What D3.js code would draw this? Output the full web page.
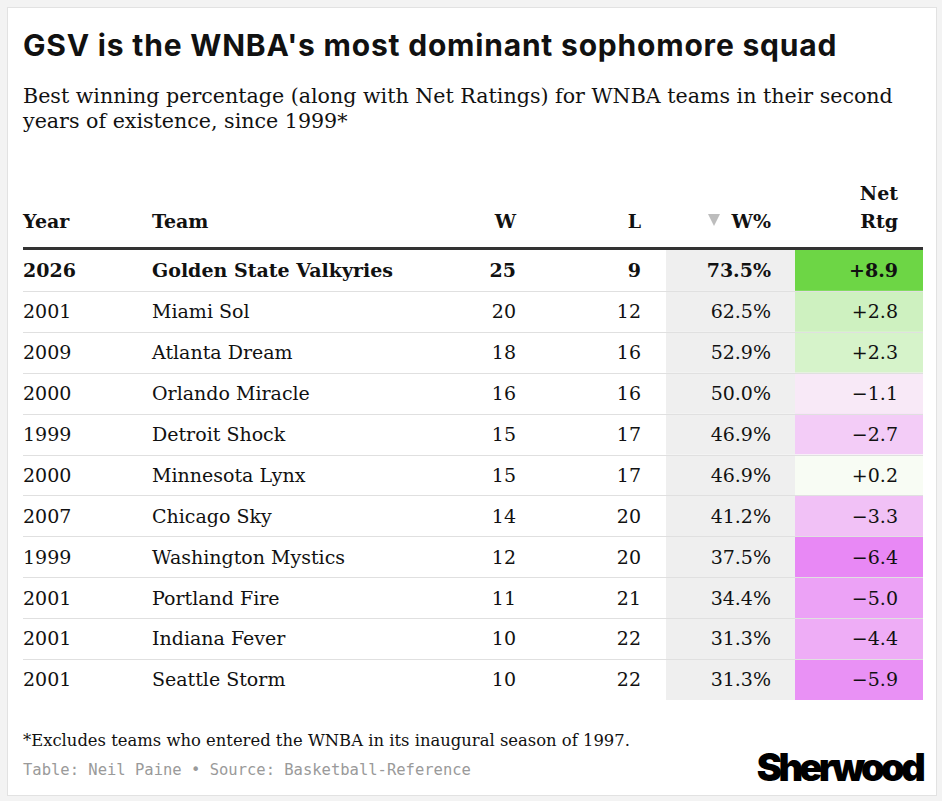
<!DOCTYPE html>
<html>
<head>
<meta charset="utf-8">
<script src="https://cdn.jsdelivr.net/npm/d3@7"></script>
<style>
  html, body { margin: 0; padding: 0; background: #f3f3f3; }
  svg { display: block; }
  .serif { font-family: "DejaVu Serif", serif; fill: #111; }
  .mono { font-family: "DejaVu Sans Mono", monospace; }
</style>
</head>
<body>
<svg id="chart"></svg>
<script>
// Table data
const years = ["2026", "2001", "2009", "2000", "1999", "2000", "2007", "1999", "2001", "2001", "2001"];
const teams = [
  "Golden State Valkyries", "Miami Sol", "Atlanta Dream", "Orlando Miracle",
  "Detroit Shock", "Minnesota Lynx", "Chicago Sky", "Washington Mystics",
  "Portland Fire", "Indiana Fever", "Seattle Storm",
];
const wins = [25, 20, 18, 16, 15, 15, 14, 12, 11, 10, 10];
const losses = [9, 12, 16, 16, 17, 17, 20, 20, 21, 22, 22];
const winPct = [73.5, 62.5, 52.9, 50.0, 46.9, 46.9, 41.2, 37.5, 34.4, 31.3, 31.3];
const netRtg = [8.9, 2.8, 2.3, -1.1, -2.7, 0.2, -3.3, -6.4, -5.0, -4.4, -5.9];

const title = "GSV is the WNBA's most dominant sophomore squad";
const subtitleLines = [
  "Best winning percentage (along with Net Ratings) for WNBA teams in their second",
  "years of existence, since 1999*",
];
const footnote = "*Excludes teams who entered the WNBA in its inaugural season of 1997.";
const source = "Table: Neil Paine \u2022 Source: Basketball-Reference";

// Layout
const W = 942, H = 801;
const left = 23, right = 922;
const rowTop = 250, rowBottom = 700;

const rows = years.map((y, i) => ({
  i, year: y, team: teams[i], w: wins[i], l: losses[i], pct: winPct[i], net: netRtg[i],
}));

const svg = d3.select("#chart").attr("width", W).attr("height", H);

// Card background
svg.append("rect")
  .attr("x", 7.5).attr("y", 7.5)
  .attr("width", 929).attr("height", 788)
  .attr("fill", "#fff").attr("stroke", "#e2e2e2");

// Title + subtitle
svg.append("text")
  .attr("x", left).attr("y", 56)
  .style("font-family", "Inter, sans-serif")
  .style("font-weight", 700)
  .style("font-size", "30px")
  .style("letter-spacing", "0.8px")
  .attr("fill", "#111")
  .text(title);

svg.selectAll(".subtitle")
  .data(subtitleLines)
  .join("text")
  .attr("class", "subtitle serif")
  .attr("x", left)
  .attr("y", (d, i) => 103 + i * 25)
  .style("font-size", "20.6px")
  .attr("fill", "#222")
  .text((d) => d);

// Scales
const yScale = d3.scaleBand().domain(d3.range(rows.length)).range([rowTop, rowBottom]);
const netColor = d3.scaleLinear()
  .domain([-6.4, 0, 8.9])
  .range(["#e888f5", "#fbfdf8", "#6dd645"]);
const fmtNet = d3.format("+.1f");
const fmtPct = (v) => v.toFixed(1) + "%";

// Columns: x is the anchor position
const columns = [
  { key: "year", label: ["Year"], x: left, anchor: "start", fmt: (d) => d.year },
  { key: "team", label: ["Team"], x: 152, anchor: "start", fmt: (d) => d.team },
  { key: "w", label: ["W"], x: 516, anchor: "end", fmt: (d) => d.w },
  { key: "l", label: ["L"], x: 641, anchor: "end", fmt: (d) => d.l },
  { key: "pct", label: ["W%"], x: 771, anchor: "end", fmt: (d) => fmtPct(d.pct) },
  { key: "net", label: ["Net", "Rtg"], x: 898, anchor: "end", fmt: (d) => fmtNet(d.net) },
];

// Cell backgrounds
const rowG = svg.append("g");
rowG.selectAll(".pct-bg")
  .data(rows)
  .join("rect")
  .attr("x", 666).attr("width", 129)
  .attr("y", (d) => yScale(d.i))
  .attr("height", yScale.bandwidth())
  .attr("fill", "#efefef");

rowG.selectAll(".net-bg")
  .data(rows)
  .join("rect")
  .attr("x", 795).attr("width", right + 1 - 795)
  .attr("y", (d) => yScale(d.i))
  .attr("height", yScale.bandwidth())
  .attr("fill", (d) => netColor(d.net));

// Row separators
rowG.selectAll(".sep")
  .data(rows.slice(1))
  .join("line")
  .attr("x1", left).attr("x2", right + 1)
  .attr("y1", (d) => Math.round(yScale(d.i)) + 0.5)
  .attr("y2", (d) => Math.round(yScale(d.i)) + 0.5)
  .attr("stroke", "#e0e0e0");

// Header
const header = svg.append("g");
columns.forEach((c) => {
  c.label.forEach((line, j) => {
    header.append("text")
      .attr("class", "serif")
      .attr("x", c.x)
      .attr("y", 228 - (c.label.length - 1 - j) * 28)
      .attr("text-anchor", c.anchor)
      .style("font-size", "19px")
      .style("font-weight", 700)
      .text(line);
  });
});
// sort indicator
header.append("path")
  .attr("d", "M708,214 L720,214 L714,226 Z")
  .attr("fill", "#bdbdbd");

header.append("rect")
  .attr("x", left).attr("y", 247)
  .attr("width", right + 1 - left).attr("height", 3)
  .attr("fill", "#333");

// Cells
columns.forEach((c) => {
  rowG.selectAll(".cell-" + c.key)
    .data(rows)
    .join("text")
    .attr("class", "serif cell-" + c.key)
    .attr("x", c.x)
    .attr("y", (d) => yScale(d.i) + yScale.bandwidth() / 2)
    .attr("dy", "0.36em")
    .attr("text-anchor", c.anchor)
    .style("font-size", "19px")
    .style("font-weight", (d) => (d.i === 0 ? 700 : 400))
    .text(c.fmt);
});

// Footer
svg.append("text")
  .attr("class", "serif")
  .attr("x", left).attr("y", 746)
  .style("font-size", "16.4px")
  .text(footnote);

svg.append("text")
  .attr("class", "mono")
  .attr("x", left).attr("y", 775)
  .style("font-size", "15.5px")
  .attr("fill", "#9a9a9a")
  .text(source);

svg.append("text")
  .attr("x", right).attr("y", 781)
  .attr("text-anchor", "end")
  .style("font-family", "Inter, sans-serif")
  .style("font-weight", 900)
  .style("font-size", "38px")
  .style("letter-spacing", "-3.7px")
  .attr("fill", "#000")
  .text("Sherwood");
</script>
</body>
</html>
